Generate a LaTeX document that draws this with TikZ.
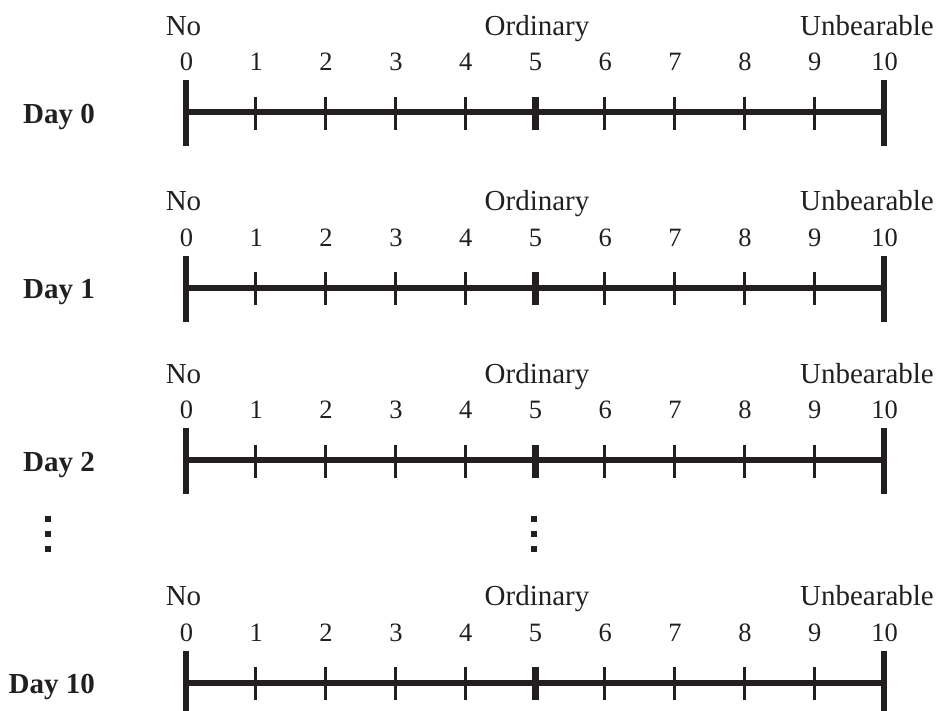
\documentclass[tikz,border=0pt]{standalone}
\usepackage{fontspec}
\setmainfont{Liberation Serif}
\definecolor{ink}{HTML}{231F20}
\begin{document}
\begin{tikzpicture}[x=1pt,y=-1pt,
  axis/.style={line width=6pt, draw=ink},
  endbar/.style={line width=6pt, draw=ink},
  midbar/.style={line width=7pt, draw=ink},
  minortick/.style={line width=2.8pt, draw=ink},
  word/.style={font=\fontsize{29}{30}\selectfont, text=ink, inner sep=0pt, anchor=base},
  digit/.style={font=\fontsize{26.5}{28}\selectfont, text=ink, inner sep=0pt, anchor=base},
  daylabel/.style={font=\bfseries\fontsize{29}{30}\selectfont, text=ink, inner sep=0pt, anchor=base east},
  vdot/.style={fill=ink, minimum size=6pt, inner sep=0pt}]
\useasboundingbox (0,0) rectangle (939,710);
% one 0--10 rating scale per day
\foreach \d/\y in {0/112, 1/287.5, 2/460, 10/682.5} {
  \coordinate (L\d) at (186,\y);
  \coordinate (R\d) at (884,\y);
  \draw[axis] (L\d) -- (R\d);
  % end bars
  \coordinate (Lt\d) at (186,{\y-32});
  \coordinate (Lb\d) at (186,{\y+34});
  \coordinate (Rt\d) at (884,{\y-32});
  \coordinate (Rb\d) at (884,{\y+34});
  \draw[endbar] (Lt\d) -- (Lb\d);
  \draw[endbar] (Rt\d) -- (Rb\d);
  % middle tick
  \coordinate (Mt\d) at (535,{\y-15.5});
  \coordinate (Mb\d) at (535,{\y+17.5});
  \draw[midbar] (Mt\d) -- (Mb\d);
  % minor ticks
  \foreach \k in {1,2,3,4,6,7,8,9} {
    \coordinate (ta\d\k) at ({186+69.8*\k},{\y-15.5});
    \coordinate (tb\d\k) at ({186+69.8*\k},{\y+17.5});
    \draw[minortick] (ta\d\k) -- (tb\d\k);
  }
  % numbers
  \foreach \k in {0,...,10} {
    \node[digit] (n\d\k) at ({186.5+69.8*\k},{\y-41.5}) {\k};
  }
  % anchor words
  \node[word] (no\d) at (183.5,{\y-77}) {No};
  \node[word] (ord\d) at (537,{\y-77}) {Ordinary};
  \node[word, anchor=base east] (unb\d) at (934,{\y-77}) {Unbearable};
  % day label
  \node[daylabel] (day\d) at (95,{\y+11}) {Day \d};
}
% vertical ellipses between Day 2 and Day 10
\foreach \x/\n in {48/a, 534/b} {
  \node[vdot] (dot\n1) at (\x,519) {};
  \node[vdot] (dot\n2) at (\x,534) {};
  \node[vdot] (dot\n3) at (\x,549) {};
}
\end{tikzpicture}
\end{document}
